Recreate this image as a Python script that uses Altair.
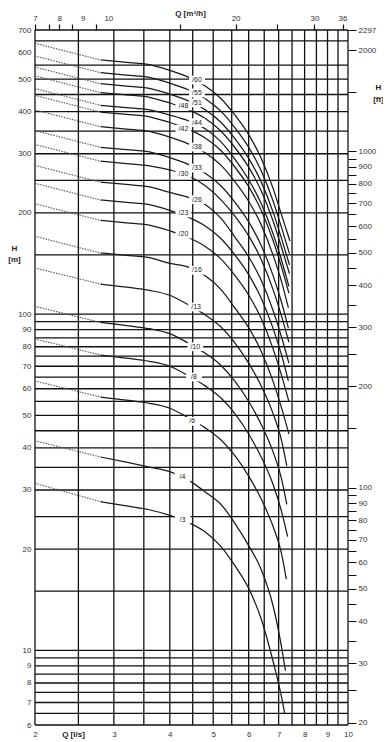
import altair as alt
import pandas as pd

# ---------------- data ----------------
MODELS = ["/3", "/4", "/6", "/8", "/10", "/13", "/16", "/20", "/23", "/26",
          "/30", "/33", "/38", "/42", "/44", "/48", "/51", "/55", "/60"]

# dotted start segment: Q = 2.0 -> 2.8 l/s
Q_DOTTED = [2.0, 2.8]
H_AT_2 = [31.4, 42.0, 63.3, 84.4, 105.5, 137.2, 170.4, 213.0, 245.0, 276.9,
          319.5, 351.5, 404.7, 447.3, 468.6, 511.2, 543.2, 585.8, 639.0]

# solid part of each curve
Q_SOLID = [2.8, 3.2, 3.6, 4.0, 4.4, 4.8, 5.2, 5.6, 6.0, 6.4, 6.8, 7.1]
Q_END = [7.22, 7.25, 7.28, 7.33, 7.3, 7.3, 7.38, 7.38, 7.36, 7.38,
         7.38, 7.36, 7.36, 7.38, 7.38, 7.4, 7.4, 7.4, 7.42]
H_SOLID = [
    [27.7, 26.9, 26.2, 25.2, 24.0, 22.5, 20.4, 17.8, 15.3, 12.4, 9.3, 7.3, 6.5],
    [37.6, 36.3, 35.1, 34.0, 32.1, 29.6, 27.2, 23.8, 20.5, 17.4, 13.6, 10.3, 8.7],
    [56.7, 55.5, 54.3, 52.5, 49.2, 45.9, 42.3, 37.8, 33.0, 28.2, 23.4, 19.5, 16.3],
    [75.6, 74.0, 72.4, 70.0, 65.6, 61.2, 56.4, 50.4, 44.0, 37.6, 31.2, 26.0, 21.8],
    [94.5, 92.5, 90.5, 87.5, 82.0, 76.5, 70.5, 63.0, 55.0, 47.0, 39.0, 32.5, 27.2],
    [122.9, 120.3, 117.7, 113.8, 106.6, 99.5, 91.7, 81.9, 71.5, 61.1, 50.7, 42.3, 35.4],
    [152.0, 149.6, 147.2, 141.6, 138.0, 130.0, 118.5, 104.0, 91.2, 77.6, 63.2, 52.8, 44.0],
    [190.0, 187.0, 184.0, 177.0, 169.0, 159.0, 146.0, 130.0, 114.0, 97.0, 79.0, 66.0, 55.0],
    [218.5, 215.1, 211.6, 203.6, 194.4, 182.9, 167.9, 149.5, 131.1, 111.6, 90.9, 75.9, 63.3],
    [247.0, 243.1, 239.2, 230.1, 222.5, 212.0, 193.0, 169.0, 148.2, 126.1, 102.7, 85.8, 71.5],
    [285.0, 280.5, 276.0, 268.5, 258.0, 241.0, 219.0, 195.0, 171.0, 145.5, 118.5, 99.0, 82.5],
    [313.5, 308.6, 303.6, 292.1, 278.9, 262.4, 240.9, 214.5, 188.1, 160.1, 130.4, 108.9, 90.8],
    [361.0, 355.3, 349.6, 336.3, 321.1, 302.1, 277.4, 247.0, 216.6, 184.3, 150.1, 125.4, 104.5],
    [399.0, 392.7, 386.4, 371.7, 354.9, 333.9, 306.6, 273.0, 239.4, 203.7, 165.9, 138.6, 115.5],
    [418.0, 411.4, 404.8, 391.0, 376.0, 356.0, 326.0, 288.0, 251.0, 213.4, 173.8, 145.2, 121.0],
    [456.0, 448.8, 441.6, 424.8, 405.6, 381.6, 350.4, 312.0, 273.6, 232.8, 189.6, 158.4, 132.0],
    [484.5, 476.9, 469.2, 451.4, 431.0, 405.5, 372.3, 331.5, 290.7, 247.4, 201.5, 168.3, 140.3],
    [522.5, 514.3, 506.0, 486.8, 464.8, 437.3, 401.5, 357.5, 313.5, 266.8, 217.3, 181.5, 151.3],
    [570.0, 561.0, 552.0, 531.0, 507.0, 477.0, 438.0, 390.0, 342.0, 291.0, 237.0, 198.0, 165.0],
]

# curve labels
LABEL_Q = [4.27, 4.27, 4.49, 4.53, 4.56, 4.58, 4.6, 4.29, 4.29, 4.6,
           4.29, 4.6, 4.6, 4.29, 4.6, 4.29, 4.6, 4.6, 4.6]
LABEL_H = [24.5, 32.7, 48.0, 65.0, 80.0, 105.0, 135.0, 173.0, 200.0, 219.0,
           262.0, 272.0, 314.0, 355.0, 371.0, 416.0, 425.0, 455.0, 497.0]

# grid and axes
Q_GRID = [2, 2.5, 3, 3.5, 4, 4.5, 5, 5.5, 6, 6.5, 7, 7.5, 8, 8.5, 9, 9.5, 10]
H_GRID = [700, 650, 550, 500, 450, 400, 350, 300, 250, 200, 150, 100, 95, 90, 85,
          80, 75, 70, 65, 60, 55, 50, 45, 40, 35, 30, 25, 20, 15, 10, 9.5, 9,
          8.5, 8, 7.5, 7, 6.5, 6]
Q_LABELS = [2, 3, 4, 5, 6, 7, 8, 9, 10]
H_LABELS = [700, 600, 500, 400, 300, 200, 100, 90, 80, 70, 60, 50, 40, 30, 20,
            10, 9, 8, 7, 6]
FT_TICKS = [2296.5, 2000, 1500, 1000, 950, 900, 850, 800, 750, 700, 650, 600,
            550, 500, 450, 400, 350, 300, 250, 200, 150, 100, 95, 90, 85, 80,
            75, 70, 65, 60, 55, 50, 45, 40, 35, 30, 25, 20]
FT_LABELS = [2000, 1000, 900, 800, 700, 600, 500, 400, 300, 200, 100, 90, 80,
             70, 60, 50, 40, 30, 20]
# top axis (m3/h): tick positions and their texts ("" = tick only)
M3H_TICKS = [7.2, 7.72, 8.15, 8.7, 9.2, 9.85, 10.5, 15.2, 20.2, 25.0, 30.3, 35.0]
M3H_TEXT = ["7", "", "8", "", "9", "", "10", "", "20", "", "30", "36"]
M3H_NO_TICK = [9.2, 10.5]

# ---------------- build tables ----------------
rows = []
for i, m in enumerate(MODELS):
    rows.append(dict(model=m, Q=Q_DOTTED[0], H=H_AT_2[i], part="dot", o=0))
    rows.append(dict(model=m, Q=Q_DOTTED[1], H=H_SOLID[i][0], part="dot", o=1))
    for j, q in enumerate(Q_SOLID + [Q_END[i]]):
        rows.append(dict(model=m, Q=q, H=H_SOLID[i][j], part="solid", o=j))
curves = pd.DataFrame(rows)
labels = pd.DataFrame(dict(model=MODELS, Q=LABEL_Q, H=LABEL_H))
qgrid = pd.DataFrame(dict(Q=Q_GRID))
hgrid = pd.DataFrame(dict(H=H_GRID))

W, HH = 313, 695
FONT = "Liberation Sans"
xs = alt.Scale(type="log", domain=[2, 10], nice=False)
ys = alt.Scale(type="log", domain=[6, 700], nice=False)

vgrid = alt.Chart(qgrid).mark_rule(color="#111", strokeWidth=1.3).encode(
    x=alt.X("Q:Q", scale=xs, axis=None))
hgrid_l = alt.Chart(hgrid).mark_rule(color="#111", strokeWidth=1.3).encode(
    y=alt.Y("H:Q", scale=ys, axis=None))

dotted = alt.Chart(curves).transform_filter(alt.datum.part == "dot").mark_line(
    color="#555", strokeWidth=1.1, strokeDash=[1.5, 1.2]).encode(
    x=alt.X("Q:Q", scale=xs, axis=None),
    y=alt.Y("H:Q", scale=ys, axis=None),
    detail="model:N", order="o:Q")

solid = alt.Chart(curves).transform_filter(alt.datum.part == "solid").mark_line(
    color="#1a1a1a", strokeWidth=1.25, interpolate="monotone").encode(
    x=alt.X("Q:Q", scale=xs, axis=None),
    y=alt.Y("H:Q", scale=ys, axis=None),
    detail="model:N", order="o:Q")

boxes = alt.Chart(labels).mark_point(
    shape="M-1,-0.55L1,-0.55L1,0.55L-1,0.55Z", filled=True, color="white",
    opacity=1, size=250).encode(
    x=alt.X("Q:Q", scale=xs, axis=None),
    y=alt.Y("H:Q", scale=ys, axis=None))

texts = alt.Chart(labels).mark_text(
    font=FONT, fontSize=7, color="#222", align="center", baseline="middle").encode(
    x=alt.X("Q:Q", scale=xs, axis=None),
    y=alt.Y("H:Q", scale=ys, axis=None),
    text="model:N")

axes_main = alt.Chart(pd.DataFrame(dict(Q=[2, 10], H=[6, 700]))).mark_point(
    opacity=0).encode(
    x=alt.X("Q:Q", scale=xs, axis=alt.Axis(
        orient="bottom", values=Q_LABELS, tickSize=0, labelPadding=5,
        labelFlush=False, labelOverlap=False, domain=False, grid=False,
        format="d", title="Q [l/s]", titleX=38, titleY=9,
        titleAlign="center", titleBaseline="middle", titleFontSize=8,
        titleFontWeight="bold")),
    y=alt.Y("H:Q", scale=ys, axis=alt.Axis(
        orient="left", values=H_LABELS, tickSize=0, labelPadding=4,
        labelFlush=False, labelOverlap=False, domain=False, grid=False,
        format="d", title=["H", "[m]"], titleAngle=0, titleX=-21, titleY=214,
        titleAlign="center", titleBaseline="top", titleLineHeight=11,
        titleFontSize=8, titleFontWeight="bold")))

ft_expr = "indexof([" + ",".join(str(v) for v in FT_LABELS) + \
    "], datum.value) >= 0 ? datum.label : (datum.value > 2200 ? '2297' : '')"
ft_layer = alt.Chart(pd.DataFrame(dict(ft=[6 * 3.28084, 700 * 3.28084]))).mark_point(
    opacity=0).encode(
    x=alt.value(0),
    y=alt.Y("ft:Q", scale=alt.Scale(type="log", domain=[6 * 3.28084, 700 * 3.28084],
                                    nice=False),
            axis=alt.Axis(orient="right", values=FT_TICKS, labelExpr=ft_expr,
                          format="d", tickSize=8, tickColor="#111", tickWidth=1,
                          labelPadding=2, labelFlush=False, labelOverlap=False,
                          domain=False, grid=False, title=["H", "[ft]"],
                          titleAngle=0, titleX=30, titleY=53, titleAlign="center",
                          titleBaseline="top", titleLineHeight=12,
                          titleFontSize=8, titleFontWeight="bold")))

m3_expr = " : ".join(
    "datum.value == {} ? '{}'".format(v, t) for v, t in zip(M3H_TICKS, M3H_TEXT)
) + " : ''"
no_tick = " || ".join("datum.value == {}".format(v) for v in M3H_NO_TICK)
m3_layer = alt.Chart(pd.DataFrame(dict(q=[7.2, 36]))).mark_point(opacity=0).encode(
    y=alt.value(0),
    x=alt.X("q:Q", scale=alt.Scale(type="log", domain=[7.2, 36], nice=False),
            axis=alt.Axis(orient="top", values=M3H_TICKS, labelExpr=m3_expr,
                          tickSize=6, tickColor="#111", tickWidth=1.2,
                          tickOpacity={"condition": {"test": no_tick, "value": 0},
                                       "value": 1},
                          labelPadding=2, labelFlush=False, labelOverlap=False,
                          domain=False, grid=False, title="Q [m³/h]",
                          titleX=155, titleY=-17, titleAlign="center",
                          titleBaseline="middle", titleFontSize=8,
                          titleFontWeight="bold")))

chart = alt.layer(vgrid, hgrid_l, dotted, solid, boxes, texts, axes_main,
                  ft_layer, m3_layer).resolve_scale(
    x="independent", y="independent").resolve_axis(
    x="independent", y="independent").properties(
    width=W, height=HH,
    autosize=alt.AutoSizeParams(type="none"),
    padding={"left": 27, "top": 22, "right": 35, "bottom": 14},
).configure_view(stroke=None).configure_axis(
    labelFont=FONT, titleFont=FONT, labelFontSize=8, labelColor="#333",
    titleColor="#222")

chart.save("out.html", embed_options={"renderer": "svg", "actions": False})
